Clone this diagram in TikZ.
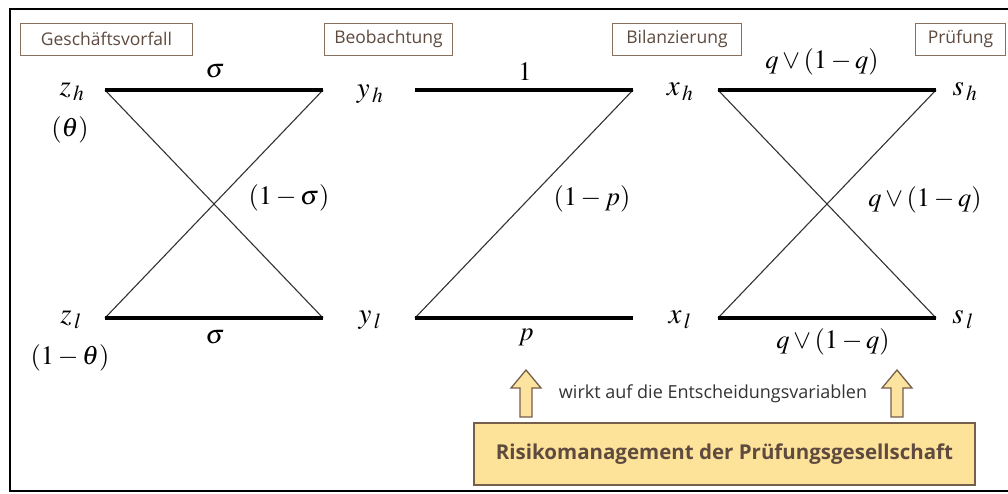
\documentclass[tikz,border=0pt]{standalone}
\usepackage{mathptmx}
\usepackage{fontspec}
\setsansfont{Open Sans}
\definecolor{hdrline}{HTML}{85705F}
\definecolor{hdrtext}{HTML}{5E4A3E}
\definecolor{arrfill}{HTML}{FDE3A0}
\definecolor{arrline}{HTML}{765E4C}
\definecolor{boxfill}{HTML}{FDE39A}
\definecolor{diag}{HTML}{333333}
\tikzset{
  hdr/.style={draw=hdrline, line width=1pt, text=hdrtext, font=\sffamily\fontsize{17.5}{20}\selectfont,
    minimum height=32pt, inner sep=0pt, anchor=west},
  var/.style={font=\fontsize{29}{32}\selectfont, inner sep=0pt},
  lbl/.style={font=\fontsize{26.5}{30}\selectfont, inner sep=0pt},
  strong/.style={line width=4pt, black},
  thin/.style={line width=1.1pt, diag},
  blockarrow/.style={draw=arrline, fill=arrfill, line width=1.3pt, line join=miter},
}
\newcommand{\uparr}[2]{% x, name
  \draw[blockarrow] (#1,370) -- (#1+15,388) -- (#1+6,388) -- (#1+6,417) -- (#1-6,417) -- (#1-6,388) -- (#1-15,388) -- cycle;
}
\begin{document}
\begin{tikzpicture}[x=1pt,y=-1pt]
\useasboundingbox (0,0) rectangle (1008,493);
\fill[white] (0,0) rectangle (1008,493);
\draw[line width=2pt] (10,9) rectangle (1030,491);

% header boxes
\node[hdr, minimum width=172pt] (h1) at (20,39) {Geschäftsvorfall};
\node[hdr, minimum width=128pt] (h2) at (324,39) {Beobachtung};
\node[hdr, minimum width=129pt] (h3) at (612,39) {Bilanzierung};
\node[hdr, minimum width=90pt] (h4) at (915,39) {Prüfung};

% endpoints
\coordinate (a1) at (105,90);  \coordinate (a2) at (323,90);
\coordinate (b1) at (105,318); \coordinate (b2) at (323,318);
\coordinate (c1) at (415,90);  \coordinate (c2) at (633,90);
\coordinate (d1) at (415,318); \coordinate (d2) at (633,318);
\coordinate (e1) at (718,90);  \coordinate (e2) at (936,90);
\coordinate (f1) at (718,318); \coordinate (f2) at (936,318);

\draw[thin] (a1) -- (b2);
\draw[thin] (b1) -- (a2);
\draw[thin] (c2) -- (d1);
\draw[thin] (e1) -- (f2);
\draw[thin] (f1) -- (e2);
\draw[strong] (a1) -- (a2);
\draw[strong] (b1) -- (b2);
\draw[strong] (c1) -- (c2);
\draw[strong] (d1) -- (d2);
\draw[strong] (e1) -- (e2);
\draw[strong] (f1) -- (f2);

% variables
\node[var] (zh) at (72,92) {$z_{\,h}$};
\node[var] (zl) at (71,320) {$z_{\,l}$};
\node[var] (yh) at (370,94) {$y_{\,h}$};
\node[var] (yl) at (370,320) {$y_{\,l}$};
\node[var] (xh) at (680,92) {$x_{\,h}$};
\node[var] (xl) at (680,320) {$x_{\,l}$};
\node[var] (sh) at (965,92) {$s_{\,h}$};
\node[var] (sl) at (963,320) {$s_{\,l}$};

% labels
\node[lbl] (l1) at (215,71) {$\sigma$};
\node[lbl] (l2) at (215,337) {$\sigma$};
\node[lbl] (l3) at (70,130) {$(\theta)$};
\node[lbl] (l4) at (70,358) {$(1-\theta)$};
\node[lbl] (l5) at (289,198) {$(1-\sigma)$};
\node[lbl] (l6) at (525,72) {$1$};
\node[lbl] (l7) at (592,199) {$(1-p)$};
\node[lbl] (l8) at (526,337) {$p$};
\node[lbl] (l9) at (822,62) {$q\vee(1-q)$};
\node[lbl] (l10) at (925,200) {$q\vee(1-q)$};
\node[lbl] (l11) at (833,342) {$q\vee(1-q)$};

% arrows and box
\uparr{526}{ar1}
\uparr{897}{ar2}
\node[font=\sffamily\fontsize{18}{21}\selectfont, text=black!80, inner sep=0pt] (wirkt) at (713,394) {wirkt auf die Entscheidungsvariablen};
\node[draw=arrline, fill=boxfill, line width=1.8pt, minimum width=501pt, minimum height=62pt, inner sep=0pt,
  font=\sffamily\bfseries\fontsize{20.5}{24}\selectfont, text=hdrtext] (risk) at (724.5,454) {Risikomanagement der Prüfungsgesellschaft};
\end{tikzpicture}
\end{document}
